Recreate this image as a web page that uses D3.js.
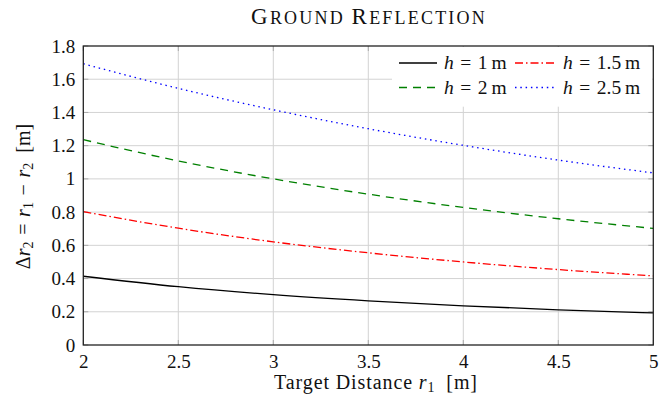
<!DOCTYPE html>
<html>
<head>
<meta charset="utf-8">
<script src="https://cdn.jsdelivr.net/npm/d3@7"></script>
<style>
  body { margin: 0; background: #fff; }
</style>
</head>
<body>
<div id="chart"></div>
<script>
// target distance r1 [m]
var distances = [2, 2.5, 3, 3.5, 4, 4.5, 5];

// path difference for each antenna height
var h1 = [0.414, 0.351, 0.303, 0.266, 0.236, 0.212, 0.193];
var h15 = [0.803, 0.703, 0.621, 0.555, 0.500, 0.454, 0.416];
var h2 = [1.236, 1.108, 1.000, 0.908, 0.828, 0.760, 0.702];
var h25 = [1.693, 1.545, 1.416, 1.302, 1.202, 1.113, 1.036];

var seriesNames = ["1", "1.5", "2", "2.5"];
var xTicks = [2, 2.5, 3, 3.5, 4, 4.5, 5];
var yTicks = [0, 0.2, 0.4, 0.6, 0.8, 1, 1.2, 1.4, 1.6, 1.8];

var FONT = "Liberation Serif";
var width = 670, height = 405;
var margin = { top: 46, right: 16.7, bottom: 60, left: 83.3 };

var svg = d3.select("#chart").append("svg")
  .attr("width", width)
  .attr("height", height)
  .attr("font-family", FONT);

var x = d3.scaleLinear().domain([2, 5]).range([margin.left, width - margin.right]);
var y = d3.scaleLinear().domain([0, 1.8]).range([height - margin.bottom, margin.top]);

// grid
var grid = svg.append("g").attr("stroke", "#d3d3d3").attr("stroke-width", 1);
grid.selectAll("line.gx").data(xTicks.slice(1, -1)).enter().append("line")
  .attr("x1", d => x(d)).attr("x2", d => x(d))
  .attr("y1", y(0)).attr("y2", y(1.8));
grid.selectAll("line.gy").data(yTicks.slice(1, -1)).enter().append("line")
  .attr("x1", x(2)).attr("x2", x(5))
  .attr("y1", d => y(d)).attr("y2", d => y(d));

// inward ticks on all four sides
var ticks = svg.append("g").attr("stroke", "#aaa").attr("stroke-width", 1);
xTicks.forEach(function (t) {
  ticks.append("line").attr("x1", x(t)).attr("x2", x(t)).attr("y1", y(0)).attr("y2", y(0) - 5);
  ticks.append("line").attr("x1", x(t)).attr("x2", x(t)).attr("y1", y(1.8)).attr("y2", y(1.8) + 5);
});
yTicks.forEach(function (t) {
  ticks.append("line").attr("x1", x(2)).attr("x2", x(2) + 5).attr("y1", y(t)).attr("y2", y(t));
  ticks.append("line").attr("x1", x(5)).attr("x2", x(5) - 5).attr("y1", y(t)).attr("y2", y(t));
});

// tick labels via d3 axes (no domain / tick lines)
var xAxis = svg.append("g")
  .attr("transform", "translate(0," + y(0) + ")")
  .call(d3.axisBottom(x).tickValues(xTicks).tickSize(0).tickPadding(10).tickFormat(d => String(d)));
var yAxis = svg.append("g")
  .attr("transform", "translate(" + x(2) + ",0)")
  .call(d3.axisLeft(y).tickValues(yTicks).tickSize(0).tickPadding(8).tickFormat(d => String(+d.toFixed(1))));
[xAxis, yAxis].forEach(function (a) {
  a.attr("font-family", FONT).attr("font-size", 19);
  a.select(".domain").remove();
  a.selectAll("text").attr("fill", "#111");
});

var line = d3.line()
  .x(d => x(d[0]))
  .y(d => y(d[1]))
  .curve(d3.curveMonotoneX);

var series = [
  { values: h1, color: "#000000", dash: null },
  { values: h15, color: "#ff0000", dash: "8,3,1.5,3" },
  { values: h2, color: "#008000", dash: "8,6" },
  { values: h25, color: "#0000ff", dash: "1.5,3.8" }
];

var plot = svg.append("g");
series.forEach(function (s) {
  plot.append("path")
    .datum(distances.map((r, i) => [r, s.values[i]]))
    .attr("d", line)
    .attr("fill", "none")
    .attr("stroke", s.color)
    .attr("stroke-width", 1.3)
    .attr("stroke-dasharray", s.dash);
});

// legend
var legend = svg.append("g");
legend.append("rect")
  .attr("x", 392).attr("y", y(1.8) + 0.7)
  .attr("width", x(5) - 392 - 0.7).attr("height", 60)
  .attr("fill", "#fff");
var legendPos = [[399, 63], [515, 63], [399, 87.5], [515, 87.5]];
series.forEach(function (s, i) {
  var p = legendPos[i];
  var lx2 = i % 2 === 0 ? p[0] + 38 : p[0] + 41;
  legend.append("line")
    .attr("x1", p[0]).attr("x2", lx2)
    .attr("y1", p[1]).attr("y2", p[1])
    .attr("stroke", s.color).attr("stroke-width", 1.3)
    .attr("stroke-dasharray", s.dash);
  var t = legend.append("text")
    .attr("x", lx2 + 7).attr("y", p[1] + 6)
    .attr("font-size", 19.5).attr("fill", "#111");
  t.append("tspan").attr("font-style", "italic").text("h");
  t.append("tspan").text("\u2004=\u2004" + seriesNames[i] + "\u2009m");
});

// frame
svg.append("rect")
  .attr("x", x(2)).attr("y", y(1.8))
  .attr("width", x(5) - x(2)).attr("height", y(0) - y(1.8))
  .attr("fill", "none").attr("stroke", "#222").attr("stroke-width", 1.3);

// title in small caps
var title = svg.append("text")
  .attr("x", 369).attr("y", 24)
  .attr("text-anchor", "middle").attr("fill", "#111")
  .attr("letter-spacing", 2.2);
[["G", 23], ["ROUND ", 18], ["R", 23], ["EFLECTION", 18]].forEach(function (p) {
  title.append("tspan").attr("font-size", p[1]).text(p[0]);
});

// x label
var xl = svg.append("text")
  .attr("x", 376).attr("y", 389)
  .attr("text-anchor", "middle").attr("font-size", 20).attr("fill", "#111")
  .attr("letter-spacing", 0.9);
xl.append("tspan").text("Target Distance ");
xl.append("tspan").attr("font-style", "italic").text("r");
xl.append("tspan").attr("font-size", 14).attr("dy", 3).text("1");
xl.append("tspan").attr("dy", -3).text("\u2002[m]");

// y label
var yl = svg.append("text")
  .attr("transform", "translate(30,196.5) rotate(-90)")
  .attr("text-anchor", "middle").attr("font-size", 20).attr("fill", "#111");
yl.append("tspan").text("\u0394");
yl.append("tspan").attr("font-style", "italic").text("r");
yl.append("tspan").attr("font-size", 14).attr("dy", 3).text("2");
yl.append("tspan").attr("dy", -3).text("\u2004=\u2004");
yl.append("tspan").attr("font-style", "italic").text("r");
yl.append("tspan").attr("font-size", 14).attr("dy", 3).text("1");
yl.append("tspan").attr("dy", -3).text("\u2004\u2212\u2004");
yl.append("tspan").attr("font-style", "italic").text("r");
yl.append("tspan").attr("font-size", 14).attr("dy", 3).text("2");
yl.append("tspan").attr("dy", -3).text("\u2002[m]");
</script>
</body>
</html>
